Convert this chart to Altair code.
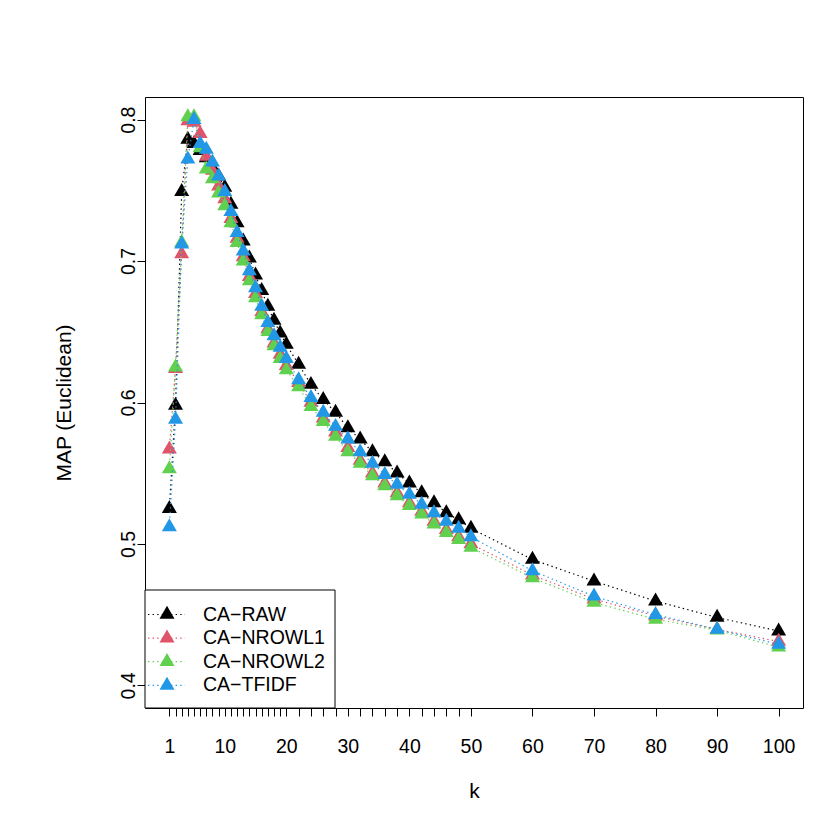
import altair as alt
import pandas as pd

# ---------------- data ----------------
k = list(range(1, 21)) + list(range(22, 51, 2)) + [60, 70, 80, 90, 100]

ca_raw = [0.525, 0.598, 0.749, 0.786, 0.783, 0.778, 0.773, 0.766, 0.760, 0.752,
          0.740, 0.727, 0.714, 0.702, 0.690, 0.679, 0.668, 0.658, 0.649, 0.641,
          0.627, 0.6127, 0.602, 0.593, 0.582, 0.574, 0.565, 0.558, 0.550, 0.543,
          0.536, 0.529, 0.522, 0.517, 0.511,
          0.489, 0.4737, 0.4596, 0.448, 0.4384]

ca_nrowl1 = [0.567, 0.624, 0.705, 0.799, 0.798, 0.790, 0.774, 0.764, 0.753, 0.744,
             0.730, 0.716, 0.703, 0.689, 0.677, 0.664, 0.652, 0.642, 0.634, 0.626,
             0.614, 0.600, 0.589, 0.579, 0.568, 0.559, 0.550, 0.543, 0.536, 0.529,
             0.523, 0.516, 0.510, 0.505, 0.500,
             0.478, 0.461, 0.449, 0.4396, 0.431]

ca_nrowl2 = [0.553, 0.625, 0.713, 0.802, 0.802, 0.780, 0.765, 0.758, 0.748, 0.739,
             0.727, 0.713, 0.700, 0.686, 0.674, 0.662, 0.650, 0.640, 0.631, 0.623,
             0.611, 0.597, 0.5865, 0.576, 0.565, 0.557, 0.548, 0.541, 0.534, 0.527,
             0.521, 0.514, 0.508, 0.503, 0.4975,
             0.476, 0.4586, 0.4467, 0.439, 0.427]

ca_tfidf = [0.512, 0.588, 0.712, 0.772, 0.800, 0.783, 0.779, 0.770, 0.760, 0.749,
            0.735, 0.720, 0.707, 0.693, 0.681, 0.668, 0.6565, 0.647, 0.639, 0.631,
            0.616, 0.6035, 0.593, 0.583, 0.574, 0.565, 0.557, 0.549, 0.542, 0.535,
            0.528, 0.522, 0.516, 0.511, 0.505,
            0.481, 0.463, 0.450, 0.4396, 0.429]

series_names = ["CA\u2212RAW", "CA\u2212NROWL1", "CA\u2212NROWL2", "CA\u2212TFIDF"]
series_values = [ca_raw, ca_nrowl1, ca_nrowl2, ca_tfidf]
series_colors = ["#000000", "#DF536B", "#61D04F", "#2297E6"]

x_label_values = [1, 10, 20, 30, 40, 50, 60, 70, 80, 90, 100]
y_ticks = [0.4, 0.5, 0.6, 0.7, 0.8]

# ---------------- build ----------------
rows = []
for name, vals in zip(series_names, series_values):
    for kk, v in zip(k, vals):
        rows.append({"series": name, "k": kk, "map": v})
df = pd.DataFrame(rows)

FONT = "Liberation Sans"
FS = 19.5
TFS = 21
W, H = 658, 611
TRI = "M0,-1.155L1,0.577L-1,0.577Z"
DASH = [1.4, 3.2]
TICK = 8

label_test = " || ".join(f"datum.value == {v}" for v in x_label_values)

X = alt.X(
    "k:Q",
    scale=alt.Scale(domain=[-2.96, 103.96], nice=False, zero=False),
    axis=alt.Axis(
        values=k, title="k", labelExpr=f"({label_test}) ? datum.label : ''",
        tickSize=TICK, labelPadding=36, labelBaseline="alphabetic",
        labelOverlap=False, labelFlush=False, labelBound=False,
        domain=False, grid=False,
        titleY=89, titleX=W / 2, titleBaseline="alphabetic", titleAlign="center",
    ),
)
Y = alt.Y(
    "map:Q",
    scale=alt.Scale(domain=[0.384, 0.816], nice=False, zero=False),
    axis=alt.Axis(
        values=y_ticks, format=".1f", title="MAP (Euclidean)",
        tickSize=TICK, labelPadding=3, labelAngle=270, labelAlign="center",
        labelBaseline="alphabetic", labelOverlap=False, labelFlush=False,
        domain=False, grid=False,
        titleAngle=270, titleX=-75, titleY=H / 2, titleBaseline="alphabetic",
        titleAlign="center",
    ),
)

layers = []
for name, col in zip(series_names, series_colors):
    b = alt.Chart(df).transform_filter(alt.datum.series == name)
    layers.append(
        b.mark_line(color=col, strokeDash=DASH, strokeWidth=1.2).encode(
            x=X, y=Y, order="k:Q")
    )
    layers.append(
        b.mark_point(shape=TRI, size=225, filled=True, color=col, opacity=1,
                     strokeWidth=0).encode(x=X, y=Y)
    )

# ---------------- legend (drawn by hand, like R's legend()) ----------------
one = pd.DataFrame({"a": [0]})
layers.append(
    alt.Chart(one).mark_rect(fill="white", stroke="black", strokeWidth=1).encode(
        x=alt.value(0), x2=alt.value(190), y=alt.value(493), y2=alt.value(H))
)
for i, (name, col) in enumerate(zip(series_names, series_colors)):
    yy = 517.5 + 23.6 * i
    d = pd.DataFrame({"series": [name]})
    layers.append(
        alt.Chart(d).mark_rule(color=col, strokeDash=DASH, strokeWidth=1.2).encode(
            x=alt.value(3), x2=alt.value(40), y=alt.value(yy))
    )
    layers.append(
        alt.Chart(d).mark_point(shape=TRI, size=225, filled=True, color=col,
                                opacity=1, strokeWidth=0).encode(
            x=alt.value(22), y=alt.value(yy))
    )
    layers.append(
        alt.Chart(d).mark_text(align="left", baseline="middle", font=FONT,
                               fontSize=FS, color="black").encode(
            x=alt.value(58), y=alt.value(yy), text="series:N")
    )

chart = (
    alt.layer(*layers)
    .properties(
        width=W, height=H,
        autosize=alt.AutoSizeParams(type="none"),
        padding={"left": 137, "top": 89, "right": 19, "bottom": 114},
        background="white",
    )
    .configure_view(stroke="black", strokeWidth=1)
    .configure_axis(
        labelFont=FONT, labelFontSize=FS, labelColor="black",
        titleFont=FONT, titleFontSize=TFS, titleColor="black", titleFontWeight="normal",
        tickColor="black", tickWidth=1,
    )
)

chart.save("out.html", embed_options={"renderer": "svg", "actions": False})
